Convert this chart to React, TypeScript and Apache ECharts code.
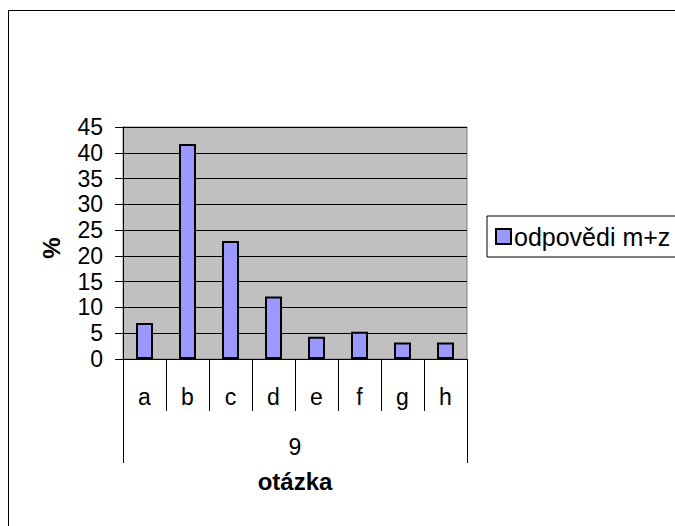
import React, { useEffect, useRef } from "react";
import * as echarts from "echarts";

const categories = ["a", "b", "c", "d", "e", "f", "g", "h"];
const groupLabels = ["9"];
const values = [7, 41.7, 22.9, 12.1, 4.3, 5.3, 3.2, 3.2];
const seriesName = "odpovědi m+z";
const xTitle = "otázka";
const yTitle = "%";

const FONT = "'Liberation Sans', Arial, sans-serif";

export default function App() {
  const ref = useRef<HTMLDivElement>(null);
  useEffect(() => {
    if (!ref.current) return;
    const chart = echarts.init(ref.current, undefined, { renderer: "svg" });
    chart.setOption({
      animation: false,
      backgroundColor: "#ffffff",
      textStyle: { fontFamily: FONT, color: "#000" },
      graphic: [
        {
          type: "line",
          shape: { x1: 8, y1: 10.5, x2: 675, y2: 10.5 },
          style: { stroke: "#000", lineWidth: 1 },
          silent: true,
        },
        {
          type: "line",
          shape: { x1: 8.5, y1: 10, x2: 8.5, y2: 526 },
          style: { stroke: "#000", lineWidth: 1 },
          silent: true,
        },
      ],
      grid: {
        left: 123,
        top: 127,
        width: 344,
        height: 232,
        show: true,
        backgroundColor: "#c0c0c0",
        borderColor: "#808080",
        borderWidth: 1,
      },
      legend: {
        left: 487,
        top: 216,
        orient: "horizontal",
        data: [{ name: seriesName, icon: "rect" }],
        itemWidth: 15,
        itemHeight: 15,
        itemGap: 5,
        itemStyle: { borderColor: "#000", borderWidth: 2 },
        borderColor: "#000",
        borderWidth: 1,
        padding: [8, 80, 8, 8],
        textStyle: { fontSize: 25, fontFamily: FONT, color: "#000", padding: [0, 0, 0, -2] },
      },
      xAxis: [
        {
          type: "category",
          data: categories,
          position: "bottom",
          axisLine: { show: true, lineStyle: { color: "#000", width: 1 } },
          axisTick: { show: true, interval: 0, length: 52, lineStyle: { color: "#000" } },
          axisLabel: { fontSize: 23, fontFamily: FONT, color: "#000", margin: 26, interval: 0 },
          splitLine: { show: false },
        },
        {
          type: "category",
          data: groupLabels,
          position: "bottom",
          offset: 52,
          axisLine: { show: false },
          axisTick: { show: true, interval: 0, length: 52, lineStyle: { color: "#000" } },
          axisLabel: { fontSize: 23, fontFamily: FONT, color: "#000", margin: 24 },
          name: xTitle,
          nameLocation: "middle",
          nameGap: 58,
          nameTextStyle: { fontSize: 24, fontWeight: "bold", fontFamily: FONT, color: "#000" },
        },
      ],
      yAxis: {
        type: "value",
        min: 0,
        max: 45,
        interval: 5,
        name: yTitle,
        nameLocation: "middle",
        nameGap: 60,
        nameRotate: 90,
        nameTextStyle: { fontSize: 24, fontWeight: "bold", fontFamily: FONT, color: "#000", padding: [0, 10, 0, 0] },
        axisLine: { show: true, lineStyle: { color: "#000", width: 1 } },
        axisTick: { show: true, length: 8, lineStyle: { color: "#000" } },
        axisLabel: { fontSize: 23, fontFamily: FONT, color: "#000", margin: 20 },
        splitLine: { show: true, lineStyle: { color: "#000", width: 1 } },
      },
      series: [
        {
          name: seriesName,
          type: "bar",
          data: values,
          barWidth: 17,
          itemStyle: { color: "#9999ff", borderColor: "#000", borderWidth: 2 },
        },
      ],
    });
    return () => chart.dispose();
  }, []);
  return (
    <div
      ref={ref}
      style={{ position: "absolute", left: 0, top: 0, width: 675, height: 526, overflow: "hidden" }}
    />
  );
}
